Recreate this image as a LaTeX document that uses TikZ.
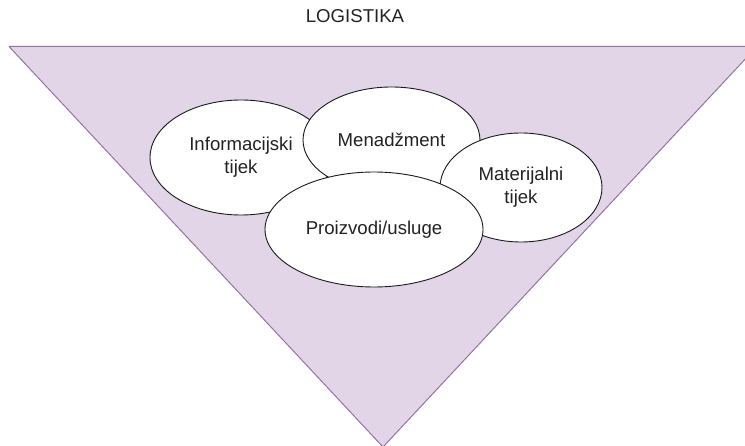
\documentclass[tikz,border=0pt]{standalone}
\usepackage{fontspec}
\setmainfont{Liberation Sans}
\usetikzlibrary{shapes.geometric}
\definecolor{trifill}{HTML}{E1D5E7}
\definecolor{tridraw}{HTML}{9673A6}
\definecolor{txt}{HTML}{222222}
\definecolor{edge}{HTML}{1A1A1A}
\tikzset{
  blob/.style={ellipse, draw=edge, fill=white, line width=0.9pt, inner sep=0pt,
    align=center, text=txt, font=\fontsize{18.6}{23}\selectfont},
  lbl/.style={text=txt, font=\fontsize{18.6}{23}\selectfont, inner sep=0pt}
}
\begin{document}
\begin{tikzpicture}[x=1pt,y=-1pt]
\useasboundingbox (0,0) rectangle (745,446);
\coordinate (tl) at (9,46.5);
\coordinate (tr) at (757,46.5);
\coordinate (ap) at (383,447);
\fill[trifill] (tl) -- (tr) -- (ap) -- cycle;
\draw[tridraw, line width=1pt] (tl) -- (tr) (tl) -- (ap) -- (tr);
\node[lbl] (title) at (355,16) {LOGISTIKA};
\node[blob, minimum width=182pt, minimum height=115pt] (info) at (241,157.5) {Informacijski\\tijek};
\node[blob, minimum width=177pt, minimum height=106pt] (men) at (391.5,140) {Menadžment};
\node[blob, minimum width=162pt, minimum height=109pt] (mat) at (521,187.5) {Materijalni\\tijek};
\node[blob, minimum width=218pt, minimum height=115pt] (pro) at (374,229.5) {Proizvodi/usluge};
\end{tikzpicture}
\end{document}
